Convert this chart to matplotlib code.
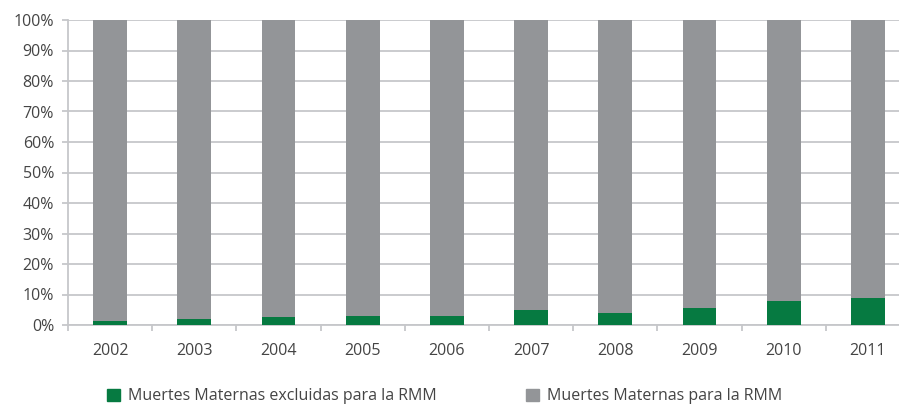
import numpy as np
import matplotlib
matplotlib.use("Agg")
import matplotlib.pyplot as plt
from matplotlib.patches import Patch

years = ["2002", "2003", "2004", "2005", "2006", "2007", "2008", "2009", "2010", "2011"]
excluidas = [1.4, 1.9, 2.5, 2.8, 3.1, 5.0, 4.0, 5.7, 7.9, 9.0]
para_rmm = [100 - v for v in excluidas]

green = "#067a41"
gray = "#939598"
grid_col = "#c6c7ca"
txt_col = "#444444"

plt.rcParams["font.family"] = ["Open Sans", "DejaVu Sans"]

fig = plt.figure(figsize=(8.99, 4.04), dpi=100)
ax = fig.add_axes([68 / 899, 79 / 404, 842 / 899, 305 / 404])

x = np.arange(len(years))
ax.bar(x, excluidas, width=0.4, color=green, zorder=3)
ax.bar(x, para_rmm, width=0.4, bottom=excluidas, color=gray, zorder=3)

ax.set_xlim(-0.5, 9.5)
ax.set_ylim(0, 100)
ax.set_yticks(np.arange(0, 101, 10))
ax.set_yticklabels([f"{v}%" for v in range(0, 101, 10)])
ax.yaxis.grid(True, color=grid_col, linewidth=1.3, zorder=0)
ax.set_xticks(x)
ax.set_xticklabels(years)
ax.set_xticks(np.arange(-0.5, 10, 1), minor=True)
ax.tick_params(axis="x", which="major", length=0, pad=13, labelsize=11.5, labelcolor=txt_col)
ax.tick_params(axis="x", which="minor", length=4, width=1.3, color=grid_col)
ax.tick_params(axis="y", length=4, width=1.3, color=grid_col, pad=6, labelsize=11.5, labelcolor=txt_col)

for s in ["top", "right"]:
    ax.spines[s].set_visible(False)
for s in ["left", "bottom"]:
    ax.spines[s].set_color(grid_col)
    ax.spines[s].set_linewidth(1.3)

handles = [Patch(color=green, label="Muertes Maternas excluidas para la RMM"),
           Patch(color=gray, label="Muertes Maternas para la RMM")]
fig.legend(handles=handles, ncol=2, loc="upper left", bbox_to_anchor=(93 / 899, 30 / 404),
           frameon=False, fontsize=11.5, handlelength=0.8, handleheight=0.8,
           handletextpad=0.5, columnspacing=5.6, labelcolor=txt_col)

fig.savefig("out.png", dpi=100)
